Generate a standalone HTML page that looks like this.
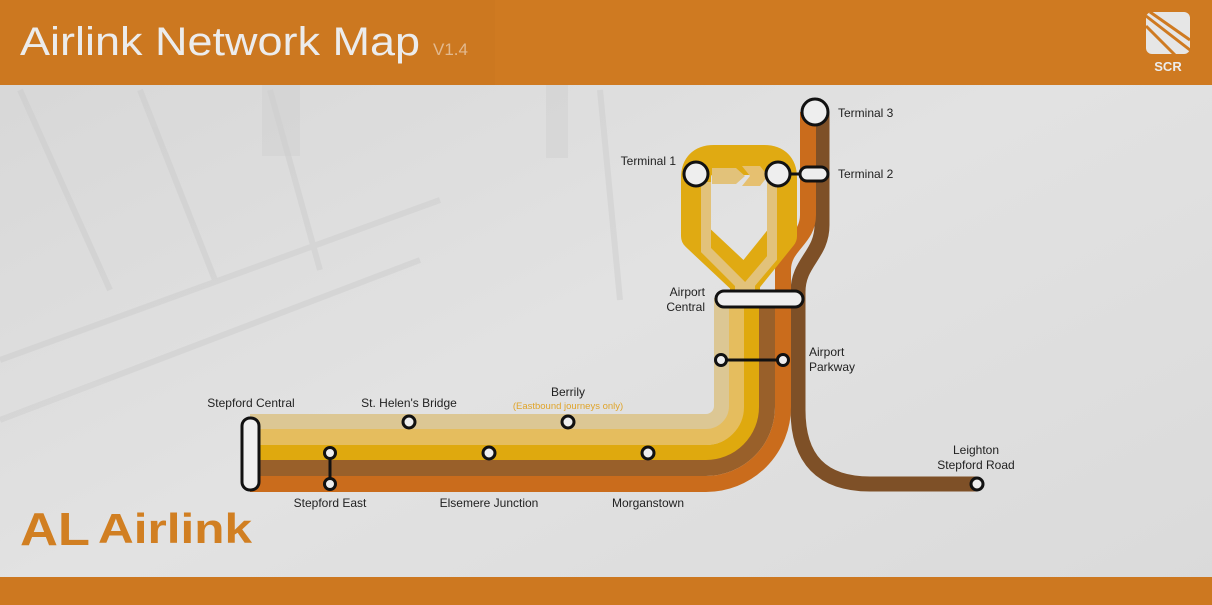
<!DOCTYPE html>
<html><head><meta charset="utf-8"><style>
html,body{margin:0;padding:0;width:1212px;height:605px;overflow:hidden;background:#dcdcdc}
svg{display:block}
text{font-family:"Liberation Sans",sans-serif}
</style></head><body>
<svg width="1212" height="605" viewBox="0 0 1212 605" xmlns="http://www.w3.org/2000/svg">
<defs>
<linearGradient id="bg" x1="0" y1="0" x2="1" y2="1">
<stop offset="0" stop-color="#d6d6d6"/><stop offset="0.5" stop-color="#e2e2e2"/><stop offset="1" stop-color="#dadada"/>
</linearGradient>
</defs>
<rect width="1212" height="605" fill="url(#bg)"/>
<g opacity="0.4" fill="none" stroke="#c8c8c8" stroke-width="6">
<path d="M20 90 L110 290"/><path d="M140 90 L215 280"/><path d="M270 90 L320 270"/>
<path d="M0 360 L440 200"/><path d="M0 420 L420 260"/><path d="M600 90 L620 300"/>
</g>
<rect x="262" y="78" width="38" height="78" fill="#cfcfcf" opacity="0.5"/>
<rect x="546" y="78" width="22" height="80" fill="#cfcfcf" opacity="0.5"/>
<rect x="0" y="0" width="1212" height="85" fill="#cf7a21"/>
<rect x="0" y="0" width="495" height="85" fill="#c9771f" opacity="0.6"/>
<rect x="0" y="577" width="1212" height="28" fill="#cd7820"/>
<text x="20" y="55" font-size="40" fill="#ececec" textLength="400" lengthAdjust="spacingAndGlyphs">Airlink Network Map</text>
<text x="433" y="55" font-size="17" fill="#e2b98f">V1.4</text>
<rect x="1146" y="12" width="44" height="42" rx="6" fill="#e6e6e6"/>
<g stroke="#cf7a21" stroke-width="3" fill="none">
<path d="M1146 16 L1190 50"/><path d="M1150 12 L1190 40"/><path d="M1146 26 L1176 56"/>
</g>
<text x="1168" y="71" font-size="13" font-weight="bold" fill="#ececec" text-anchor="middle">SCR</text>
<text x="20" y="545" font-size="46" font-family="Liberation Serif" fill="#d17f22" font-weight="bold" textLength="70" lengthAdjust="spacingAndGlyphs">AL</text>
<text x="98" y="543" font-size="42" fill="#d17f22" font-weight="bold" textLength="154" lengthAdjust="spacingAndGlyphs">Airlink</text>

<g fill="none" stroke-width="16">
<path d="M250 422 L706 422 A16 16 0 0 0 722 406 L722 298" stroke="#dcc794"/>
<path d="M250 437 L706 437 A31 31 0 0 0 737 406 L737 298" stroke="#e5bd5e"/>
<path d="M250 453 L706 453 A46 46 0 0 0 752 407 L752 298" stroke="#dfa90e"/>
<path d="M250 468 L706 468 A61 61 0 0 0 767 407 L767 298" stroke="#99602a"/>
<path d="M977 484 L870 484 Q798 484 798 410 L798 292 C798 262 822 255 822 225 L822 112" stroke="#7e5027" stroke-width="15"/>
<path d="M250 484 L706 484 A77 77 0 0 0 783 407 L783 270 C783 245 808 240 808 215 L808 112" stroke="#ca6c1c" stroke-width="16"/>
</g>
<path d="M745 300 L745 282 L696 236 L696 178 Q696 160 714 160 L764 160 Q782 160 782 178 L782 236 L745 282" fill="none" stroke="#e0aa12" stroke-width="30" stroke-linejoin="round"/>
<path d="M740 296 L740 284 L706 250 L706 182" fill="none" stroke="#e2c27a" stroke-width="10"/>
<path d="M750 296 L750 284 L772 258 L772 182" fill="none" stroke="#e2c27a" stroke-width="10"/>
<path d="M712 168 L736 168 L745 176 L736 184 L712 184 Z" fill="#e2c27a"/>
<path d="M742 166 L760 166 L768 176 L760 186 L742 186 L750 176 Z" fill="#e6c070"/>

<g fill="#eeeeee" stroke="#111" stroke-width="3">
<rect x="242" y="418" width="17" height="72" rx="8"/>
<line x1="330" y1="453" x2="330" y2="484"/>
<circle cx="330" cy="453" r="5.5"/><circle cx="330" cy="484" r="5.5"/>
<circle cx="409" cy="422" r="6"/><circle cx="568" cy="422" r="6"/>
<circle cx="489" cy="453" r="6"/><circle cx="648" cy="453" r="6"/>
<rect x="716" y="291" width="87" height="16" rx="8"/>
<line x1="721" y1="360" x2="783" y2="360"/>
<circle cx="721" cy="360" r="5.5"/><circle cx="783" cy="360" r="5.5"/>
<circle cx="696" cy="174" r="12"/>
<line x1="790" y1="174" x2="802" y2="174"/>
<rect x="800" y="167" width="28" height="14" rx="7"/>
<circle cx="778" cy="174" r="12"/>
<circle cx="815" cy="112" r="13"/>
<circle cx="977" cy="484" r="6"/>
</g>

<g font-size="12" fill="#222">
<text x="251" y="407" text-anchor="middle">Stepford Central</text>
<text x="409" y="407" text-anchor="middle">St. Helen's Bridge</text>
<text x="568" y="396" text-anchor="middle">Berrily</text>
<text x="568" y="409" text-anchor="middle" font-size="9.5" fill="#e0a42a">(Eastbound journeys only)</text>
<text x="330" y="507" text-anchor="middle">Stepford East</text>
<text x="489" y="507" text-anchor="middle">Elsemere Junction</text>
<text x="648" y="507" text-anchor="middle">Morganstown</text>
<text x="705" y="296" text-anchor="end">Airport</text>
<text x="705" y="311" text-anchor="end">Central</text>
<text x="809" y="356">Airport</text>
<text x="809" y="371">Parkway</text>
<text x="676" y="165" text-anchor="end">Terminal 1</text>
<text x="838" y="178">Terminal 2</text>
<text x="838" y="117">Terminal 3</text>
<text x="976" y="454" text-anchor="middle">Leighton</text>
<text x="976" y="469" text-anchor="middle">Stepford Road</text>
</g>
</svg>
</body></html>
